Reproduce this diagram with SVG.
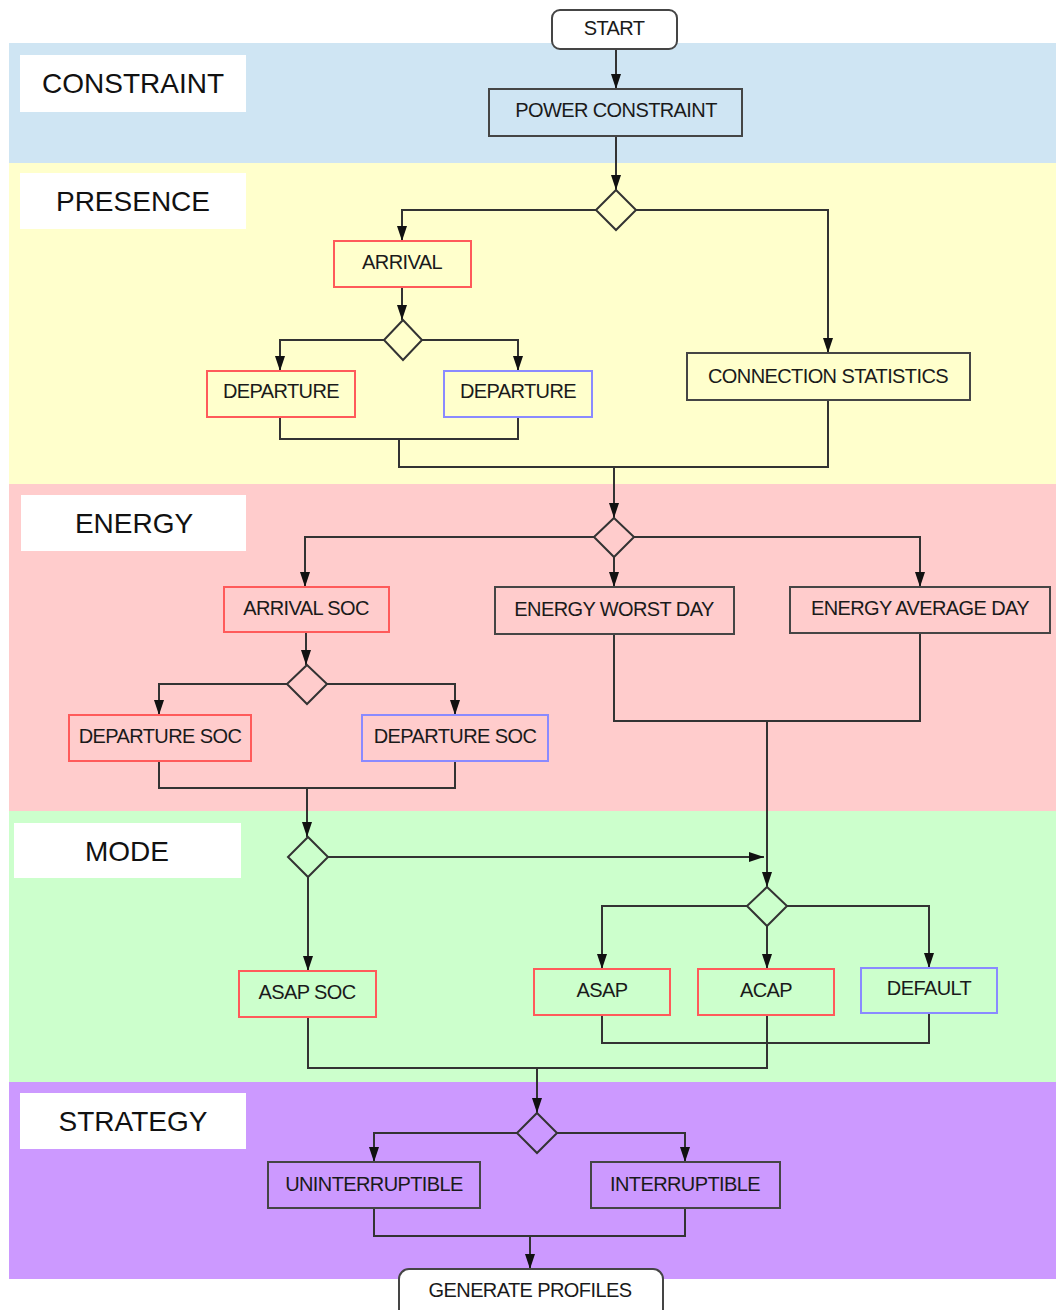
<svg xmlns="http://www.w3.org/2000/svg" width="1056" height="1310" viewBox="0 0 1056 1310">
<style>
.lbl{font-family:"Liberation Sans",Arial,sans-serif;font-size:28px;fill:#111;text-anchor:middle}
.t{font-family:"Liberation Sans",Arial,sans-serif;font-size:20px;fill:#1a1a1a;text-anchor:middle;letter-spacing:-0.6px}
.n{stroke:#454545;stroke-width:2}
.r{stroke:#ff5a5a;stroke-width:2}
.b{stroke:#8a8aff;stroke-width:2}
.c{fill:none;stroke:#333;stroke-width:2}
.d{stroke:#333;stroke-width:2}
</style>
<defs>
<marker id="ah" viewBox="0 0 15 10" refX="15" refY="5" markerWidth="15" markerHeight="10" markerUnits="userSpaceOnUse" orient="auto">
<path d="M0,0 L15,5 L0,10 z" fill="#111"/>
</marker>
</defs>
<rect width="1056" height="1310" fill="#fff"/>
<g id="bands">
<rect x="9" y="43" width="1047" height="120" fill="#cfe5f3"/>
<rect x="9" y="163" width="1047" height="321" fill="#ffffcc"/>
<rect x="9" y="484" width="1047" height="327" fill="#ffcccc"/>
<rect x="9" y="811" width="1047" height="271" fill="#ccffcc"/>
<rect x="9" y="1082" width="1047" height="197" fill="#cc99ff"/>
</g>
<g id="lane-labels">
<g id="lbl-constraint"><rect x="20" y="55" width="226" height="57" fill="#fff"/><text class="lbl" x="133" y="93">CONSTRAINT</text></g>
<g id="lbl-presence"><rect x="20" y="173" width="226" height="56" fill="#fff"/><text class="lbl" x="133" y="211">PRESENCE</text></g>
<g id="lbl-energy"><rect x="21" y="495" width="225" height="56" fill="#fff"/><text class="lbl" x="134" y="533">ENERGY</text></g>
<g id="lbl-mode"><rect x="14" y="823" width="227" height="55" fill="#fff"/><text class="lbl" x="127" y="861">MODE</text></g>
<g id="lbl-strategy"><rect x="20" y="1093" width="226" height="56" fill="#fff"/><text class="lbl" x="133" y="1131">STRATEGY</text></g>
</g>
<g id="connectors">
<path class="c" d="M616,49 V89" marker-end="url(#ah)"/>
<path class="c" d="M616,136 V190" marker-end="url(#ah)"/>
<path class="c" d="M596,210 H402 V241" marker-end="url(#ah)"/>
<path class="c" d="M636,210 H828 V353" marker-end="url(#ah)"/>
<path class="c" d="M402,287 V320" marker-end="url(#ah)"/>
<path class="c" d="M384,340 H280 V371" marker-end="url(#ah)"/>
<path class="c" d="M422,340 H518 V371" marker-end="url(#ah)"/>
<path class="c" d="M280,417 V439 H518 V417"/>
<path class="c" d="M399,439 V467 H828 V400"/>
<path class="c" d="M614,467 V518" marker-end="url(#ah)"/>
<path class="c" d="M594,537 H305 V587" marker-end="url(#ah)"/>
<path class="c" d="M614,557 V587" marker-end="url(#ah)"/>
<path class="c" d="M634,537 H920 V587" marker-end="url(#ah)"/>
<path class="c" d="M306,632 V665" marker-end="url(#ah)"/>
<path class="c" d="M287,684 H159 V715" marker-end="url(#ah)"/>
<path class="c" d="M326,684 H455 V715" marker-end="url(#ah)"/>
<path class="c" d="M159,761 V788 H455 V761"/>
<path class="c" d="M307,788 V837" marker-end="url(#ah)"/>
<path class="c" d="M614,634 V721 H920 V633"/>
<path class="c" d="M767,721 V887" marker-end="url(#ah)"/>
<path class="c" d="M328,857 H764" marker-end="url(#ah)"/>
<path class="c" d="M308,877 V971" marker-end="url(#ah)"/>
<path class="c" d="M747,906 H602 V969" marker-end="url(#ah)"/>
<path class="c" d="M767,926 V969" marker-end="url(#ah)"/>
<path class="c" d="M787,906 H929 V968" marker-end="url(#ah)"/>
<path class="c" d="M602,1015 V1043 H929 V1013"/>
<path class="c" d="M308,1017 V1068 H767 V1015"/>
<path class="c" d="M537,1068 V1113" marker-end="url(#ah)"/>
<path class="c" d="M517,1133 H374 V1162" marker-end="url(#ah)"/>
<path class="c" d="M557,1133 H685 V1162" marker-end="url(#ah)"/>
<path class="c" d="M374,1208 V1236 H685 V1208"/>
<path class="c" d="M530,1236 V1269" marker-end="url(#ah)"/>
</g>
<g id="start"><rect class="n" x="552" y="10" width="125" height="39" rx="8" fill="#fff"/><text class="t" x="614" y="35">START</text></g>
<g id="power-constraint"><rect class="n" x="489" y="89" width="253" height="47" fill="#cfe5f3"/><text class="t" x="616" y="117">POWER CONSTRAINT</text></g>
<g id="dec-presence"><polygon class="d" points="616,190 636,210 616,230 596,210" fill="#ffffcc"/></g>
<g id="arrival"><rect class="r" x="334" y="241" width="137" height="46" fill="#ffffcc"/><text class="t" x="402" y="269">ARRIVAL</text></g>
<g id="dec-arrival"><polygon class="d" points="403,320 422,340 403,360 384,340" fill="#ffffcc"/></g>
<g id="departure-red"><rect class="r" x="207" y="371" width="148" height="46" fill="#ffffcc"/><text class="t" x="281" y="398">DEPARTURE</text></g>
<g id="departure-blue"><rect class="b" x="444" y="371" width="148" height="46" fill="#ffffcc"/><text class="t" x="518" y="398">DEPARTURE</text></g>
<g id="connection-statistics"><rect class="n" x="687" y="353" width="283" height="47" fill="#ffffcc"/><text class="t" x="828" y="383">CONNECTION STATISTICS</text></g>
<g id="dec-energy"><polygon class="d" points="614,518 634,537 614,557 594,537" fill="#ffcccc"/></g>
<g id="arrival-soc"><rect class="r" x="224" y="587" width="165" height="45" fill="#ffcccc"/><text class="t" x="306" y="615">ARRIVAL SOC</text></g>
<g id="energy-worst-day"><rect class="n" x="495" y="587" width="239" height="47" fill="#ffcccc"/><text class="t" x="614" y="616">ENERGY WORST DAY</text></g>
<g id="energy-average-day"><rect class="n" x="790" y="587" width="260" height="46" fill="#ffcccc"/><text class="t" x="920" y="615">ENERGY AVERAGE DAY</text></g>
<g id="dec-soc"><polygon class="d" points="307,665 327,684 307,704 287,684" fill="#ffcccc"/></g>
<g id="departure-soc-red"><rect class="r" x="69" y="715" width="182" height="46" fill="#ffcccc"/><text class="t" x="160" y="743">DEPARTURE SOC</text></g>
<g id="departure-soc-blue"><rect class="b" x="362" y="715" width="186" height="46" fill="#ffcccc"/><text class="t" x="455" y="743">DEPARTURE SOC</text></g>
<g id="dec-mode-1"><polygon class="d" points="308,837 328,857 308,877 288,857" fill="#ccffcc"/></g>
<g id="dec-mode-2"><polygon class="d" points="767,887 787,906 767,926 747,906" fill="#ccffcc"/></g>
<g id="asap-soc"><rect class="r" x="239" y="971" width="137" height="46" fill="#ccffcc"/><text class="t" x="307" y="999">ASAP SOC</text></g>
<g id="asap"><rect class="r" x="534" y="969" width="136" height="46" fill="#ccffcc"/><text class="t" x="602" y="997">ASAP</text></g>
<g id="acap"><rect class="r" x="698" y="969" width="136" height="46" fill="#ccffcc"/><text class="t" x="766" y="997">ACAP</text></g>
<g id="default"><rect class="b" x="861" y="968" width="136" height="45" fill="#ccffcc"/><text class="t" x="929" y="995">DEFAULT</text></g>
<g id="dec-strategy"><polygon class="d" points="537,1113 557,1133 537,1153 517,1133" fill="#cc99ff"/></g>
<g id="uninterruptible"><rect class="n" x="268" y="1162" width="212" height="46" fill="#cc99ff"/><text class="t" x="374" y="1191">UNINTERRUPTIBLE</text></g>
<g id="interruptible"><rect class="n" x="591" y="1162" width="189" height="46" fill="#cc99ff"/><text class="t" x="685" y="1191">INTERRUPTIBLE</text></g>
<g id="generate-profiles"><rect class="n" x="399" y="1269" width="264" height="60" rx="10" fill="#fff"/><text class="t" x="530" y="1297">GENERATE PROFILES</text></g>
</svg>
